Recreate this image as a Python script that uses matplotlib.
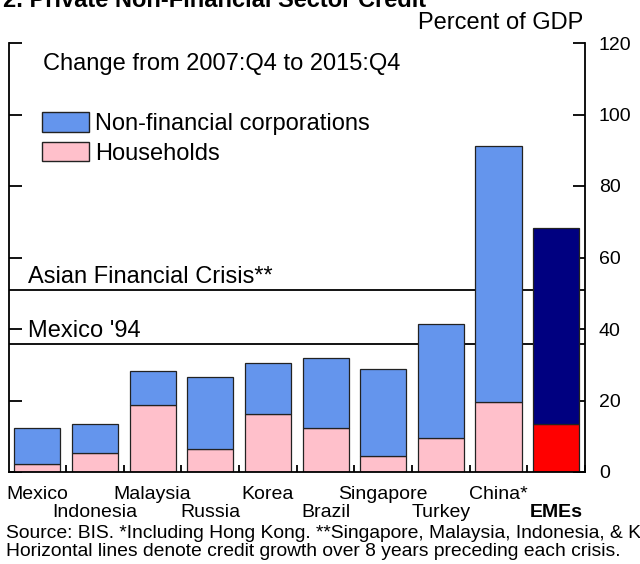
import matplotlib
matplotlib.use("Agg")
import matplotlib.pyplot as plt
from matplotlib.patches import Patch
from matplotlib.ticker import FixedLocator

plt.rcParams['font.family'] = ['Liberation Sans', 'DejaVu Sans']

countries = ['Mexico', 'Indonesia', 'Malaysia', 'Russia', 'Korea',
             'Brazil', 'Singapore', 'Turkey', 'China*', 'EMEs']
households = [2.2, 5.3, 18.7, 6.4, 16.2, 12.3, 4.5, 9.5, 19.6, 13.4]
totals = [12.3, 13.4, 28.3, 26.6, 30.5, 31.9, 28.8, 41.4, 91.2, 68.3]
corporations = [t - h for t, h in zip(totals, households)]
crisis_labels = ['Asian Financial Crisis**', "Mexico '94"]
crisis_levels = [50.9, 35.8]

fig = plt.figure(figsize=(6.4, 5.64), dpi=100)
ax = fig.add_axes([8.5 / 640, 1 - 472 / 564, (585 - 8.5) / 640, (472 - 43) / 564])

x = list(range(len(countries)))
nfc_colors = ['#6495ED'] * 9 + ['#000080']
hh_colors = ['#FFC0CB'] * 9 + ['#FF0000']

for lvl in crisis_levels:
    ax.axhline(lvl, color='black', lw=1.3, zorder=1)

ax.bar(x, households, width=0.8, color=hh_colors, edgecolor='#222222', lw=0.9, zorder=2)
ax.bar(x, corporations, bottom=households, width=0.8, color=nfc_colors,
       edgecolor='#222222', lw=0.9, zorder=2)

ax.set_xlim(-0.5, 9.5)
ax.set_ylim(0, 120)
ax.spines['top'].set_visible(False)
for s in ['left', 'right', 'bottom']:
    ax.spines[s].set_linewidth(1.3)

ax.set_yticks(range(0, 121, 20))
ax.tick_params(axis='y', which='both', direction='in', length=9, width=1.3,
               left=True, right=True, labelleft=False, labelright=True,
               labelsize=14, pad=10)
# longer corner ticks at the top
ax.yaxis.set_minor_locator(FixedLocator([120]))
ax.tick_params(axis='y', which='minor', length=19, labelright=False)
ax.set_xticks([i + 0.5 for i in range(10)])
ax.tick_params(axis='x', direction='in', length=5, width=1.3, labelbottom=False)

for i, name in enumerate(countries):
    yy = -0.052 if i % 2 == 0 else -0.094
    ax.text(i, yy, name, transform=ax.get_xaxis_transform(), ha='center', va='center',
            fontsize=14, fontweight='bold' if name == 'EMEs' else 'normal')

for lbl, lvl in zip(crisis_labels, crisis_levels):
    ax.text(-0.17, lvl + 2.0, lbl, fontsize=17, va='baseline', zorder=3)

ax.text(0.06, 0.952, 'Change from 2007:Q4 to 2015:Q4', transform=ax.transAxes,
        fontsize=17, va='center')

handles = [Patch(facecolor='#6495ED', edgecolor='#222222', label='Non-financial corporations'),
           Patch(facecolor='#FFC0CB', edgecolor='#222222', label='Households')]
ax.legend(handles=handles, loc='upper left', bbox_to_anchor=(0.058, 0.838), frameon=False,
          fontsize=17, handlelength=2.0, handleheight=0.9, handletextpad=0.25,
          labelspacing=0.26, borderaxespad=0, borderpad=0)

fig.text(583 / 640, 1 - 23 / 564, 'Percent of GDP', ha='right', va='center', fontsize=17)
fig.text(0.005, 1 - 7 / 564, '2. Private Non-Financial Sector Credit', ha='left',
         va='baseline', fontsize=17, fontweight='bold')
fig.text(6 / 640, 1 - 534 / 564, 'Source: BIS. *Including Hong Kong. **Singapore, Malaysia, Indonesia, & Korea.',
         ha='left', va='center', fontsize=13.9)
fig.text(6 / 640, 1 - 552 / 564, 'Horizontal lines denote credit growth over 8 years preceding each crisis.',
         ha='left', va='center', fontsize=13.9)

fig.savefig('out.png', dpi=100)
